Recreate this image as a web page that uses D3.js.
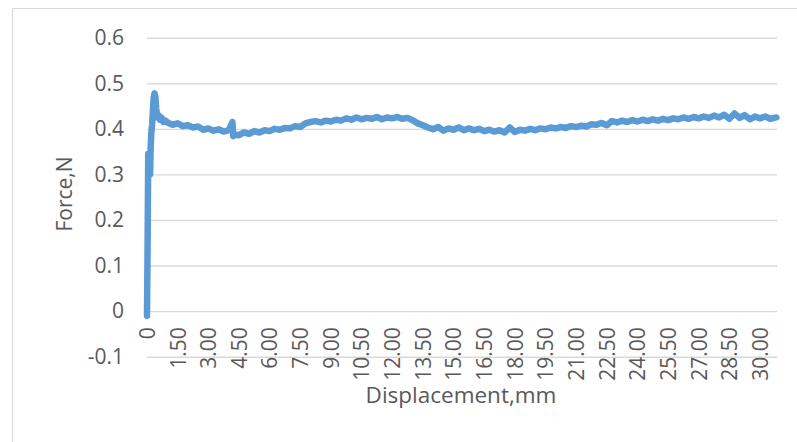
<!DOCTYPE html>
<html>
<head>
<meta charset="utf-8">
<script src="https://cdn.jsdelivr.net/npm/d3@7"></script>
<style>
  body { margin: 0; background: #fff; }
  text { font-family: "Open Sans", sans-serif; fill: #595959; }
</style>
</head>
<body>
<div id="chart"></div>
<script>
// measured curve: displacement (mm) and force (N)
var displacement = [
  0, 0.03, 0.06, 0.09, 0.12, 0.15, 0.18, 0.21, 0.25, 0.29, 0.33, 0.37, 0.41, 0.45, 0.5, 0.56, 0.63, 0.7, 0.8, 0.9,
  1.00, 1.25, 1.50, 1.75, 2.00, 2.25, 2.50, 2.75, 3.00, 3.25, 3.50, 3.75,
  4.00, 4.18, 4.22, 4.25, 4.50, 4.75, 5.00, 5.25, 5.50, 5.75,
  6.00, 6.25, 6.50, 6.75, 7.00, 7.25, 7.50, 7.75, 8.00, 8.25, 8.50, 8.75,
  9.00, 9.25, 9.50, 9.75, 10.00, 10.25, 10.50, 10.75, 11.00, 11.25, 11.50, 11.75,
  12.00, 12.25, 12.50, 12.75, 13.00, 13.25, 13.50, 13.75, 14.00, 14.25, 14.50, 14.75,
  15.00, 15.25, 15.50, 15.75, 16.00, 16.25, 16.50, 16.75, 17.00, 17.25, 17.50, 17.75,
  18.00, 18.25, 18.50, 18.75, 19.00, 19.25, 19.50, 19.75, 20.00, 20.25, 20.50, 20.75,
  21.00, 21.25, 21.50, 21.75, 22.00, 22.25, 22.50, 22.75, 23.00, 23.25, 23.50, 23.75,
  24.00, 24.25, 24.50, 24.75, 25.00, 25.25, 25.50, 25.75, 26.00, 26.25, 26.50, 26.75,
  27.00, 27.25, 27.50, 27.75, 28.00, 28.25, 28.50, 28.75, 29.00, 29.25, 29.50, 29.75,
  30.00, 30.25, 30.50, 30.80
];
var force = [
  -0.01, 0.15, 0.345, 0.33, 0.31, 0.30, 0.36, 0.39, 0.41, 0.44, 0.47, 0.478, 0.47, 0.445, 0.425, 0.43, 0.42, 0.425, 0.415, 0.418,
  0.414, 0.409, 0.412, 0.406, 0.408, 0.403, 0.405, 0.398, 0.401, 0.396, 0.399, 0.394,
  0.397, 0.415, 0.384, 0.388, 0.386, 0.392, 0.389, 0.395, 0.392, 0.397,
  0.395, 0.400, 0.398, 0.402, 0.401, 0.406, 0.404, 0.412, 0.415, 0.417, 0.414, 0.418,
  0.416, 0.420, 0.418, 0.423, 0.420, 0.425, 0.421, 0.424, 0.422, 0.426, 0.421, 0.425,
  0.423, 0.426, 0.422, 0.424, 0.419, 0.412, 0.408, 0.403, 0.399, 0.404, 0.396, 0.401,
  0.398, 0.403, 0.397, 0.401, 0.397, 0.400, 0.395, 0.398, 0.394, 0.397, 0.392, 0.403,
  0.393, 0.398, 0.396, 0.400, 0.397, 0.401, 0.399, 0.403, 0.401, 0.404, 0.402, 0.406,
  0.404, 0.407, 0.405, 0.410, 0.409, 0.413, 0.408, 0.417, 0.414, 0.418, 0.415, 0.419,
  0.416, 0.420, 0.417, 0.421, 0.418, 0.422, 0.419, 0.423, 0.421, 0.425, 0.422, 0.426,
  0.423, 0.427, 0.424, 0.429, 0.425, 0.431, 0.422, 0.434, 0.424, 0.430, 0.421, 0.427,
  0.423, 0.427, 0.422, 0.425
];

var xTickValues = [0, 1.5, 3, 4.5, 6, 7.5, 9, 10.5, 12, 13.5, 15, 16.5, 18, 19.5, 21, 22.5, 24, 25.5, 27, 28.5, 30];
var xTickLabels = ["0", "1.50", "3.00", "4.50", "6.00", "7.50", "9.00", "10.50", "12.00", "13.50", "15.00",
  "16.50", "18.00", "19.50", "21.00", "22.50", "24.00", "25.50", "27.00", "28.50", "30.00"];
var yTickValues = [-0.1, 0, 0.1, 0.2, 0.3, 0.4, 0.5, 0.6];
var yTickLabels = ["-0.1", "0", "0.1", "0.2", "0.3", "0.4", "0.5", "0.6"];

var width = 797;
var height = 442;

var plotLeft = 147;
var plotRight = 777;
var plotTop = 37.7;
var plotBottom = 356.7;

var svg = d3.select("#chart")
  .append("svg")
  .attr("width", width)
  .attr("height", height);

svg.append("rect")
  .attr("width", width)
  .attr("height", height)
  .attr("fill", "#fff");

// chart area border (runs off the right and bottom edges)
svg.append("rect")
  .attr("x", 12.5)
  .attr("y", 8.5)
  .attr("width", 820)
  .attr("height", 460)
  .attr("fill", "none")
  .attr("stroke", "#d9d9d9")
  .attr("stroke-width", 1);

var xScale = d3.scaleLinear()
  .domain([0, 30.83])
  .range([plotLeft, plotRight]);

var yScale = d3.scaleLinear()
  .domain([-0.1, 0.6])
  .range([plotBottom, plotTop]);

// y axis with gridlines
var yAxis = d3.axisLeft(yScale)
  .tickValues(yTickValues)
  .tickFormat(function(d, i) { return yTickLabels[i]; })
  .tickSize(-(plotRight - plotLeft))
  .tickPadding(23);

var yG = svg.append("g")
  .attr("transform", "translate(" + plotLeft + ",0)")
  .call(yAxis);
yG.select(".domain").remove();
yG.selectAll("line")
  .attr("stroke", "#d9d9d9")
  .attr("stroke-width", 1.4);
yG.selectAll("text")
  .attr("font-size", 21)
  .attr("font-family", "Open Sans")
  .attr("fill", "#595959");

// x axis labels sit below the zero line, rotated
var xAxis = d3.axisBottom(xScale)
  .tickValues(xTickValues)
  .tickFormat(function(d, i) { return xTickLabels[i]; })
  .tickSize(0);

var xG = svg.append("g")
  .attr("transform", "translate(0," + yScale(0) + ")")
  .call(xAxis);
xG.select(".domain").remove();
xG.selectAll("text")
  .attr("font-size", 21)
  .attr("font-family", "Open Sans")
  .attr("fill", "#595959")
  .attr("text-anchor", "end")
  .attr("transform", "rotate(-90)")
  .attr("x", -16)
  .attr("y", 0)
  .attr("dy", "0.35em");

// the curve
var points = displacement.map(function(d, i) { return [d, force[i]]; });

var line = d3.line()
  .x(function(d) { return xScale(d[0]); })
  .y(function(d) { return yScale(d[1]); });

svg.append("path")
  .datum(points)
  .attr("d", line)
  .attr("fill", "none")
  .attr("stroke", "#5b9bd5")
  .attr("stroke-width", 6.5)
  .attr("stroke-linejoin", "round")
  .attr("stroke-linecap", "round");

// axis titles
svg.append("text")
  .attr("x", 461)
  .attr("y", 403)
  .attr("text-anchor", "middle")
  .attr("font-size", 22.5)
  .text("Displacement,mm");

svg.append("text")
  .attr("transform", "translate(72,194)rotate(-90)")
  .attr("text-anchor", "middle")
  .attr("font-size", 21)
  .text("Force,N");
</script>
</body>
</html>
